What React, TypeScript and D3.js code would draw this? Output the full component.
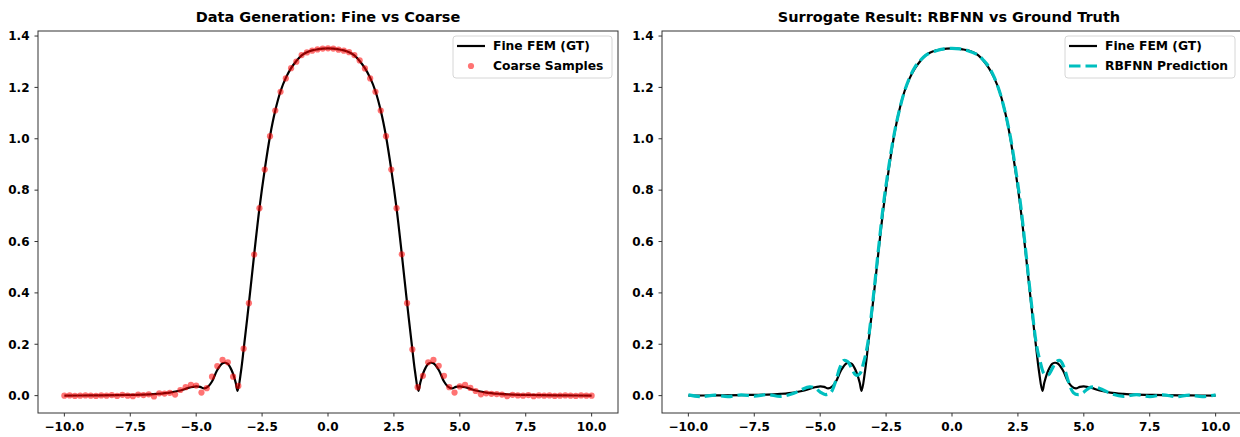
import React, { useEffect, useRef } from "react";
import * as d3 from "d3";

// fine FEM ground truth
const fineX = [
  -10, -9, -8, -7.5, -7, -6.5, -6, -5.6, -5.3, -5.0, -4.85, -4.7, -4.55, -4.4, -4.2, -4.0, -3.9, -3.8, -3.7, -3.6,
  -3.5, -3.43, -3.3, -3.2, -3.0, -2.8, -2.6, -2.4, -2.2, -2.0, -1.8, -1.6, -1.4, -1.2, -1.0, -0.8, -0.6, -0.4, -0.2,
  0,
  0.2, 0.4, 0.6, 0.8, 1.0, 1.2, 1.4, 1.6, 1.8, 2.0, 2.2, 2.4, 2.6, 2.8, 3.0, 3.2, 3.3, 3.43, 3.5, 3.6, 3.7, 3.8, 3.9,
  4.0, 4.2, 4.4, 4.55, 4.7, 4.85, 5.0, 5.3, 5.6, 6, 6.5, 7, 7.5, 8, 9, 10,
];
const fineY = [
  0.0, 0.001, 0.002, 0.003, 0.004, 0.007, 0.012, 0.02, 0.03, 0.036, 0.034, 0.028, 0.035, 0.055, 0.1, 0.126, 0.128,
  0.124, 0.108, 0.085, 0.05, 0.018, 0.095, 0.18, 0.36, 0.55, 0.73, 0.88, 1.01, 1.11, 1.185, 1.237, 1.275, 1.303,
  1.325, 1.337, 1.344, 1.348, 1.351,
  1.352,
  1.351, 1.348, 1.344, 1.337, 1.325, 1.303, 1.275, 1.237, 1.185, 1.11, 1.01, 0.88, 0.73, 0.55, 0.36, 0.18, 0.095,
  0.018, 0.05, 0.085, 0.108, 0.124, 0.128, 0.126, 0.1, 0.055, 0.035, 0.028, 0.034, 0.036, 0.03, 0.02, 0.012, 0.007,
  0.004, 0.003, 0.002, 0.001, 0.0,
];

// coarse samples
const coarseX = [
  -10.0, -9.8, -9.6, -9.4, -9.2, -9.0, -8.8, -8.6, -8.4, -8.2, -8.0, -7.8, -7.6, -7.4, -7.2, -7.0, -6.8, -6.6, -6.4,
  -6.2, -6.0, -5.8, -5.6, -5.4, -5.2, -5.0, -4.8, -4.6, -4.4, -4.2, -4.0, -3.8, -3.6, -3.4, -3.2, -3.0, -2.8, -2.6,
  -2.4, -2.2, -2.0, -1.8, -1.6, -1.4, -1.2, -1.0, -0.8, -0.6, -0.4, -0.2, 0.0, 0.2, 0.4, 0.6, 0.8, 1.0, 1.2, 1.4,
  1.6, 1.8, 2.0, 2.2, 2.4, 2.6, 2.8, 3.0, 3.2, 3.4, 3.6, 3.8, 4.0, 4.2, 4.4, 4.6, 4.8, 5.0, 5.2, 5.4, 5.6, 5.8, 6.0,
  6.2, 6.4, 6.6, 6.8, 7.0, 7.2, 7.4, 7.6, 7.8, 8.0, 8.2, 8.4, 8.6, 8.8, 9.0, 9.2, 9.4, 9.6, 9.8, 10.0,
];
const coarseY = [
  0.0, 0.001, -0.001, 0.0, 0.001, 0.0, -0.001, 0.001, 0.0, 0.002, -0.001, 0.003, 0.0, -0.002, 0.004, 0.002, 0.005,
  -0.003, 0.009, 0.008, 0.011, 0.004, 0.022, 0.033, 0.042, 0.039, 0.012, 0.029, 0.074, 0.115, 0.139, 0.13, 0.074,
  0.038, 0.183, 0.36, 0.549, 0.73, 0.88, 1.01, 1.11, 1.183, 1.235, 1.275, 1.3, 1.326, 1.336, 1.343, 1.348, 1.351,
  1.352,
  1.351, 1.347, 1.343, 1.337, 1.326, 1.305, 1.274, 1.235, 1.183, 1.11, 1.01, 0.88, 0.73, 0.55, 0.36, 0.18, 0.033,
  0.077, 0.13, 0.139, 0.116, 0.077, 0.033, 0.012, 0.036, 0.042, 0.03, 0.018, 0.005, 0.009, 0.007, 0.006, 0.004,
  -0.002, 0.003, 0.001, 0.0, 0.002, -0.002, 0.001, 0.0, 0.001, -0.001, 0.0, 0.001, 0.0, -0.001, 0.001, 0.0, 0.0,
];

// RBFNN prediction
const predX = [
  -10, -9.5, -9, -8.5, -8, -7.5, -7, -6.5, -6, -5.7, -5.4, -5.2, -5.0, -4.8, -4.6, -4.4, -4.25, -4.1, -3.95, -3.8,
  -3.65, -3.5, -3.35, -3.2, -3.0, -2.8, -2.6, -2.4, -2.2, -2.0, -1.8, -1.6, -1.4, -1.2, -1.0, -0.6, -0.3,
  0,
  0.3, 0.6, 1.0, 1.2, 1.4, 1.6, 1.8, 2.0, 2.2, 2.4, 2.6, 2.8, 3.0, 3.2, 3.35, 3.5, 3.65, 3.8, 3.95, 4.1, 4.25, 4.4,
  4.6, 4.8, 5.0, 5.2, 5.4, 5.7, 6, 6.5, 7, 7.5, 8, 8.5, 9, 9.5, 10,
];
const predY = [
  0.003, -0.004, 0.002, -0.004, 0.003, -0.002, 0.004, -0.003, 0.009, 0.024, 0.034, 0.03, 0.014, 0.004, 0.012, 0.06,
  0.11, 0.137, 0.132, 0.105, 0.08, 0.085, 0.13, 0.2, 0.37, 0.56, 0.745, 0.89, 1.015, 1.11, 1.185, 1.24, 1.28, 1.305,
  1.325, 1.343, 1.35,
  1.352,
  1.35, 1.343, 1.325, 1.305, 1.28, 1.24, 1.185, 1.11, 1.015, 0.89, 0.745, 0.56, 0.37, 0.2, 0.13, 0.085, 0.08, 0.105,
  0.132, 0.137, 0.11, 0.06, 0.012, 0.004, 0.014, 0.03, 0.034, 0.024, 0.009, -0.003, 0.004, -0.004, 0.003, -0.004,
  0.002, -0.004, 0.003,
];

const xTicks = [-10, -7.5, -5, -2.5, 0, 2.5, 5, 7.5, 10];
const yTicks = [0, 0.2, 0.4, 0.6, 0.8, 1.0, 1.2, 1.4];

const FONT = "'DejaVu Sans', sans-serif";

const App = () => {
  const svgRef = useRef<SVGSVGElement>(null);

  useEffect(() => {
    const svg = d3.select(svgRef.current);
    svg.selectAll("*").remove();

    const top = 31;
    const bottom = 413;
    const panels = [
      { left: 38, right: 618, title: "Data Generation: Fine vs Coarse", kind: "data" },
      { left: 662, right: 1242, title: "Surrogate Result: RBFNN vs Ground Truth", kind: "pred" },
    ];

    const fine = fineX.map((x, i) => [x, fineY[i]] as [number, number]);
    const coarse = coarseX.map((x, i) => [x, coarseY[i]] as [number, number]);
    const pred = predX.map((x, i) => [x, predY[i]] as [number, number]);

    panels.forEach((p) => {
      const x = d3.scaleLinear().domain([-11, 11]).range([p.left, p.right]);
      const y = d3.scaleLinear().domain([-0.0676, 1.4196]).range([bottom, top]);
      const g = svg.append("g");

      const clipId = `clip-${p.kind}`;
      g.append("clipPath")
        .attr("id", clipId)
        .append("rect")
        .attr("x", p.left)
        .attr("y", top)
        .attr("width", p.right - p.left)
        .attr("height", bottom - top);

      const plot = g.append("g").attr("clip-path", `url(#${clipId})`);
      const line = d3
        .line<[number, number]>()
        .x((d) => x(d[0]))
        .y((d) => y(d[1]))
        .curve(d3.curveCatmullRom.alpha(0.5));

      plot.append("path")
        .datum(fine)
        .attr("d", line)
        .attr("fill", "none")
        .attr("stroke", "black")
        .attr("stroke-width", 2.2);

      if (p.kind === "data") {
        plot.selectAll("circle")
          .data(coarse)
          .join("circle")
          .attr("cx", (d) => x(d[0]))
          .attr("cy", (d) => y(d[1]))
          .attr("r", 3.1)
          .attr("fill", "red")
          .attr("fill-opacity", 0.55);
      } else {
        plot.append("path")
          .datum(pred)
          .attr("d", line)
          .attr("fill", "none")
          .attr("stroke", "#00bfbf")
          .attr("stroke-width", 3.2)
          .attr("stroke-dasharray", "11.5,5");
      }

      // frame
      g.append("rect")
        .attr("x", p.left)
        .attr("y", top)
        .attr("width", p.right - p.left)
        .attr("height", bottom - top)
        .attr("fill", "none")
        .attr("stroke", "#333")
        .attr("stroke-width", 1);

      // x axis
      const xa = g.append("g").attr("transform", `translate(0,${bottom})`);
      xTicks.forEach((t) => {
        xa.append("line").attr("x1", x(t)).attr("x2", x(t)).attr("y1", 0).attr("y2", 3.5).attr("stroke", "#333");
        xa.append("text")
          .attr("x", x(t))
          .attr("y", 17.5)
          .attr("text-anchor", "middle")
          .style("font-family", FONT)
          .style("font-weight", "bold")
          .style("font-size", "12px")
          .text(d3.format(".1f")(t).replace("-", "\u2212"));
      });

      // y axis
      const ya = g.append("g").attr("transform", `translate(${p.left},0)`);
      yTicks.forEach((t) => {
        ya.append("line").attr("x1", -3.5).attr("x2", 0).attr("y1", y(t)).attr("y2", y(t)).attr("stroke", "#333");
        ya.append("text")
          .attr("x", -8.5)
          .attr("y", y(t))
          .attr("dy", "0.36em")
          .attr("text-anchor", "end")
          .style("font-family", FONT)
          .style("font-weight", "bold")
          .style("font-size", "12px")
          .text(d3.format(".1f")(t));
      });

      g.append("text")
        .attr("x", (p.left + p.right) / 2 - (p.kind === "pred" ? 3 : 0))
        .attr("y", 22)
        .attr("text-anchor", "middle")
        .style("font-family", FONT)
        .style("font-weight", "bold")
        .style("font-size", "14.5px")
        .text(p.title);

      // legend
      const lx = p.kind === "data" ? 453 : 1065;
      const lw = p.kind === "data" ? 159 : 170;
      const lg = g.append("g");
      lg.append("rect")
        .attr("x", lx)
        .attr("y", 36)
        .attr("width", lw)
        .attr("height", 42)
        .attr("rx", 3)
        .attr("fill", "white")
        .attr("fill-opacity", 0.8)
        .attr("stroke", "#d6d6d6");
      lg.append("line")
        .attr("x1", lx + 4).attr("x2", lx + 32)
        .attr("y1", 46).attr("y2", 46)
        .attr("stroke", "black").attr("stroke-width", 2.2);
      if (p.kind === "data") {
        lg.append("circle").attr("cx", lx + 18).attr("cy", 66).attr("r", 3.1)
          .attr("fill", "red").attr("fill-opacity", 0.55);
      } else {
        lg.append("line")
          .attr("x1", lx + 4).attr("x2", lx + 32)
          .attr("y1", 66).attr("y2", 66)
          .attr("stroke", "#00bfbf").attr("stroke-width", 3.2)
          .attr("stroke-dasharray", "11.5,5");
      }
      const labels = p.kind === "data" ? ["Fine FEM (GT)", "Coarse Samples"] : ["Fine FEM (GT)", "RBFNN Prediction"];
      labels.forEach((s, i) => {
        lg.append("text")
          .attr("x", lx + 40)
          .attr("y", 46 + i * 20)
          .attr("dy", "0.36em")
          .style("font-family", FONT)
          .style("font-weight", "bold")
          .style("font-size", "12.3px")
          .text(s);
      });
    });
  }, []);

  return (
    <svg
      ref={svgRef}
      width={1240}
      height={437}
      style={{ position: "absolute", left: 0, top: 0, background: "white" }}
    />
  );
};

export default App;
